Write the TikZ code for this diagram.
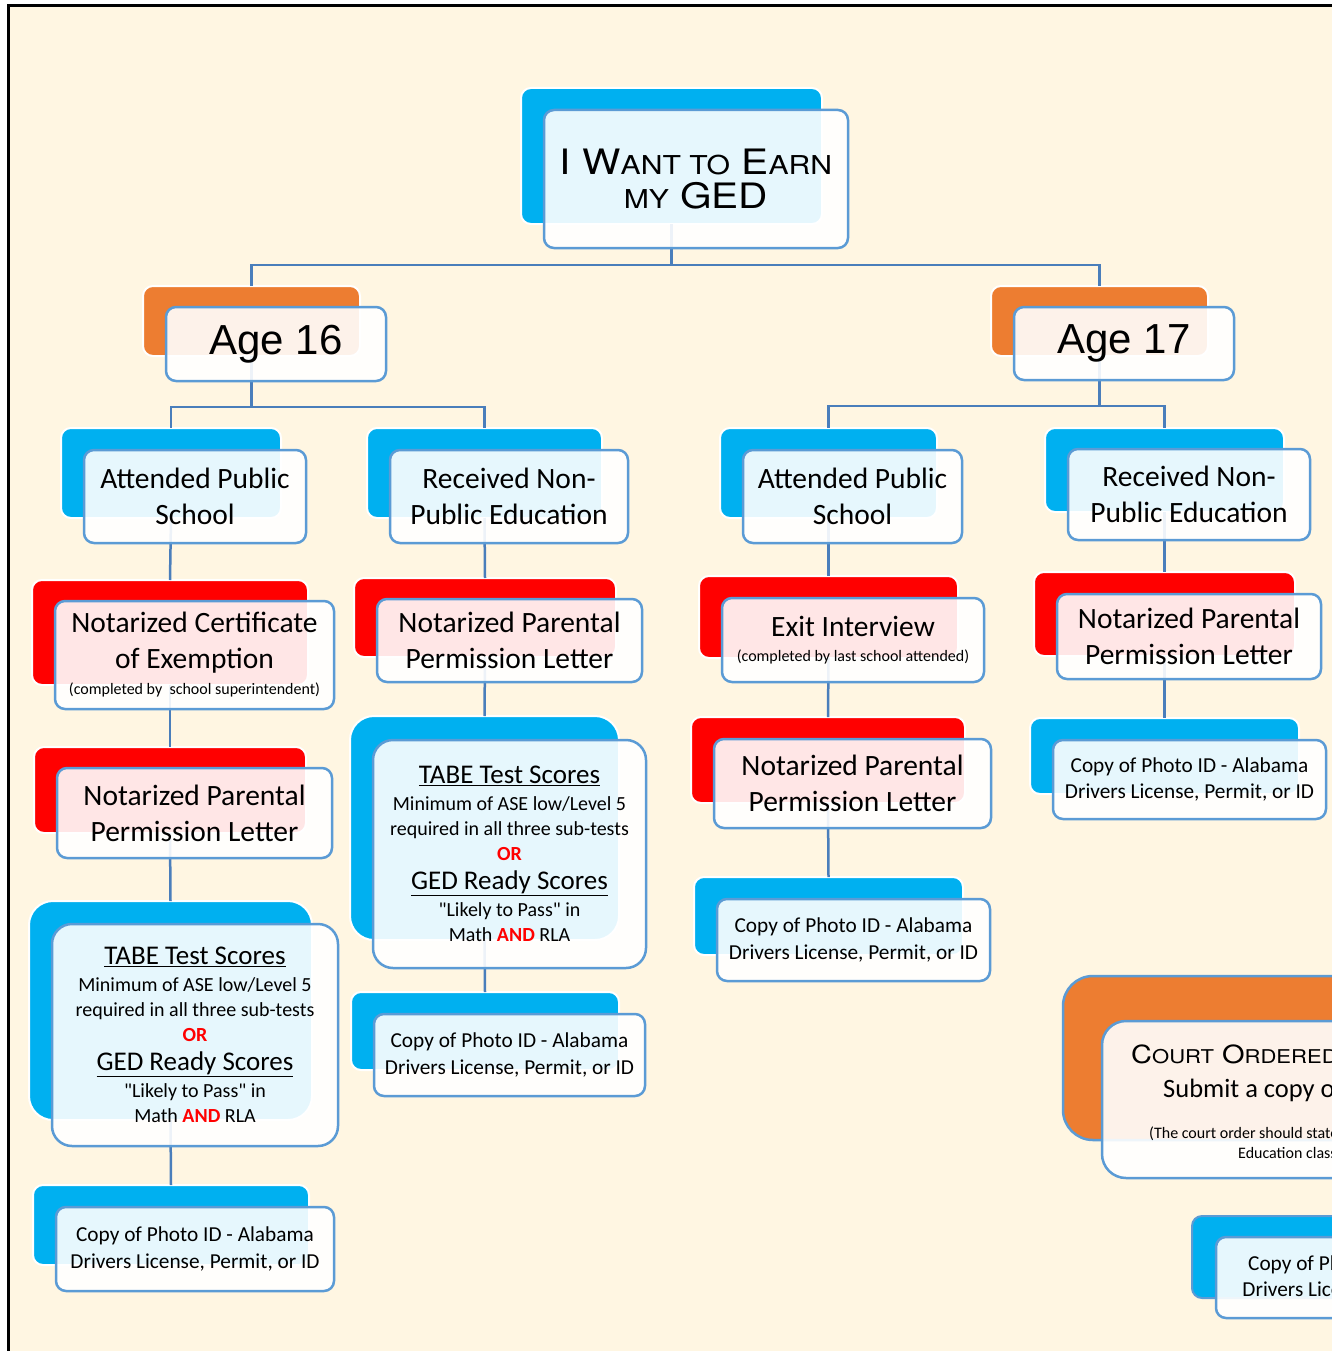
\documentclass[tikz,border=0pt]{standalone}
\usepackage{fontspec}
\setmainfont{Carlito}
\newfontfamily\capsfont{TeX Gyre Heros}[FakeStretch=1.16]
\newfontfamily\agefont{Liberation Sans}
\definecolor{cream}{RGB}{255,246,226}
\definecolor{skyblue}{RGB}{0,176,240}
\definecolor{orangeb}{RGB}{237,125,49}
\definecolor{edgeblue}{RGB}{91,155,213}
\definecolor{linkblue}{RGB}{74,126,187}
\newcommand\lowcaps[2]{{\fontsize{#1}{#1}\selectfont #2}}
\newcommand\tabescores{{\fontsize{27}{25}\selectfont\underline{TABE Test Scores}}\\[2pt]
  Minimum of ASE low/Level 5\\
  required in all three sub-tests\\
  \textcolor{red}{\textbf{OR}}\\[4pt]
  {\fontsize{27}{25}\selectfont\underline{GED Ready Scores}}\\[2pt]
  \textquotedbl Likely to Pass\textquotedbl\ in\\
  Math \textcolor{red}{\textbf{AND}} RLA}

\begin{document}
\begin{tikzpicture}[x=1pt, y=-1pt,
  backbox/.style={draw=white, line width=2pt, rounded corners=10pt, inner sep=0pt, outer sep=0pt},
  frontbox/.style={draw=edgeblue, line width=2.5pt, fill=white, fill opacity=0.9, text opacity=1,
    rounded corners=10pt, inner sep=0pt, outer sep=0pt, align=center, font=\fontsize{29.5}{36}\selectfont},
  idtext/.style={font=\fontsize{21.3}{26.5}\selectfont},
  tabetext/.style={font=\fontsize{20}{25}\selectfont, rounded corners=20pt},
  conn/.style={draw=linkblue, line width=2.5pt}]
  \useasboundingbox (0,0) rectangle (1332,1351);
  \clip (0,0) rectangle (1332,1351);
  \fill [white] (0,0) rectangle (1332,1351);
  \draw [line width=3pt, fill=cream] (8,6) rectangle (1420,1430);

  \node [backbox, fill=skyblue, minimum width=301pt, minimum height=136pt] (titleb) at (671.5,156) {};
  \node [backbox, fill=orangeb, minimum width=217pt, minimum height=70pt] (age16b) at (251.5,321) {};
  \node [backbox, fill=orangeb, minimum width=217pt, minimum height=70pt] (age17b) at (1099.5,321) {};
  \node [backbox, fill=skyblue, minimum width=220pt, minimum height=90pt] (aps1b) at (171,473) {};
  \node [backbox, fill=skyblue, minimum width=235pt, minimum height=90pt] (rnp1b) at (484.5,473) {};
  \node [backbox, fill=skyblue, minimum width=217pt, minimum height=90pt] (aps2b) at (828.5,473) {};
  \node [backbox, fill=skyblue, minimum width=239pt, minimum height=84pt] (rnp2b) at (1164.5,470) {};
  \node [backbox, fill=red, minimum width=276pt, minimum height=105pt] (certb) at (170,632.5) {};
  \node [backbox, fill=red, minimum width=272pt, minimum height=86pt] (npl1b) at (170,790) {};
  \node [backbox, fill=skyblue, rounded corners=24pt, minimum width=283pt, minimum height=219pt] (tabe1b) at (170.5,1010.5) {};
  \node [backbox, fill=skyblue, minimum width=276pt, minimum height=80pt] (id1b) at (171,1225) {};
  \node [backbox, fill=red, minimum width=262pt, minimum height=79pt] (npl2b) at (485,617.5) {};
  \node [backbox, fill=skyblue, rounded corners=24pt, minimum width=269pt, minimum height=224pt] (tabe2b) at (484.5,828) {};
  \node [backbox, fill=skyblue, minimum width=268pt, minimum height=78pt] (id2b) at (485,1031) {};
  \node [backbox, fill=red, minimum width=259pt, minimum height=82pt] (exitb) at (828.5,617) {};
  \node [backbox, fill=red, minimum width=274pt, minimum height=86pt] (npl3b) at (828,760) {};
  \node [backbox, fill=skyblue, minimum width=269pt, minimum height=78pt] (id3b) at (828.5,916) {};
  \node [backbox, fill=red, minimum width=261pt, minimum height=84pt] (npl4b) at (1164.5,614) {};
  \node [backbox, fill=skyblue, minimum width=269pt, minimum height=76pt] (id4b) at (1164.5,756) {};
  \node [backbox, draw=edgeblue, line width=2.5pt, fill=orangeb, rounded corners=30pt, anchor=north west,
    minimum width=340pt, minimum height=164pt] (courtb) at (1063,976) {};
  \node [backbox, draw=edgeblue, line width=2pt, fill=skyblue, anchor=north west,
    minimum width=299pt, minimum height=82pt] (id5b) at (1192,1216) {};

  \draw [conn] (titleb.south) -- ++(0,41) -| (age16b.north);
  \draw [conn] (titleb.south) -- ++(0,41) -| (age17b.north);
  \draw [conn] (age16b.south) -- ++(0,51) -| (aps1b.north);
  \draw [conn] (age16b.south) -- ++(0,51) -| (rnp1b.north);
  \draw [conn] (age17b.south) -- ++(0,50) -| (aps2b.north);
  \draw [conn] (age17b.south) -- ++(0,50) -| (rnp2b.north);
  \draw [conn] (aps1b.south) -- (certb.north);
  \draw [conn] (certb.south) -- (npl1b.north);
  \draw [conn] (npl1b.south) -- (tabe1b.north);
  \draw [conn] (tabe1b.south) -- (id1b.north);
  \draw [conn] (rnp1b.south) -- (npl2b.north);
  \draw [conn] (npl2b.south) -- (tabe2b.north);
  \draw [conn] (tabe2b.south) -- (id2b.north);
  \draw [conn] (aps2b.south) -- (exitb.north);
  \draw [conn] (exitb.south) -- (npl3b.north);
  \draw [conn] (npl3b.south) -- (id3b.north);
  \draw [conn] (rnp2b.south) -- (npl4b.north);
  \draw [conn] (npl4b.south) -- (id4b.north);

  \node [frontbox, minimum width=304pt, minimum height=138pt, font=\capsfont\fontsize{35}{34}\selectfont] (title) at (696,179)
    {I W\lowcaps{26}{ANT TO} E\lowcaps{26}{ARN}\\\lowcaps{26}{MY} GED};
  \node [frontbox, minimum width=220pt, minimum height=74pt, font=\agefont\fontsize{42}{42}\selectfont] (age16) at (276,344) {Age 16};
  \node [frontbox, minimum width=220pt, minimum height=73pt, font=\agefont\fontsize{42}{42}\selectfont] (age17) at (1124,343.5) {Age 17};
  \node [frontbox, minimum width=222pt, minimum height=93pt] (aps1) at (195,496.5) {Attended Public\\School};
  \node [frontbox, minimum width=238pt, minimum height=93pt] (rnp1) at (509,496.5) {Received Non-\\Public Education};
  \node [frontbox, minimum width=219pt, minimum height=93pt] (aps2) at (852.5,496.5) {Attended Public\\School};
  \node [frontbox, minimum width=242pt, minimum height=91pt] (rnp2) at (1189,494.5) {Received Non-\\Public Education};
  \node [frontbox, minimum width=279pt, minimum height=108pt] (cert) at (194.5,655)
    {Notarized Certificate\\of Exemption\\[-10pt]{\fontsize{16}{18}\selectfont (completed by\ \ school superintendent)}};
  \node [frontbox, minimum width=275pt, minimum height=90pt] (npl1) at (194.5,813) {Notarized Parental\\Permission Letter};
  \node [frontbox, tabetext, minimum width=286pt, minimum height=222pt] (tabe1) at (195,1035) {\tabescores};
  \node [frontbox, idtext, minimum width=278pt, minimum height=84pt] (id1) at (195,1249) {Copy of Photo ID - Alabama\\Drivers License, Permit, or ID};
  \node [frontbox, minimum width=265pt, minimum height=83pt] (npl2) at (509.5,640.5) {Notarized Parental\\Permission Letter};
  \node [frontbox, tabetext, minimum width=273pt, minimum height=228pt] (tabe2) at (509.5,854) {\tabescores};
  \node [frontbox, idtext, minimum width=271pt, minimum height=82pt] (id2) at (509.5,1055) {Copy of Photo ID - Alabama\\Drivers License, Permit, or ID};
  \node [frontbox, minimum width=262pt, minimum height=84pt] (exit) at (853,640)
    {Exit Interview\\[-11pt]{\fontsize{16}{18}\selectfont (completed by last school attended)}};
  \node [frontbox, minimum width=277pt, minimum height=89pt] (npl3) at (852.5,783.5) {Notarized Parental\\Permission Letter};
  \node [frontbox, idtext, minimum width=273pt, minimum height=82pt] (id3) at (853.5,940) {Copy of Photo ID - Alabama\\Drivers License, Permit, or ID};
  \node [frontbox, minimum width=264pt, minimum height=85pt] (npl4) at (1189,636.5) {Notarized Parental\\Permission Letter};
  \node [frontbox, idtext, minimum width=273pt, minimum height=79pt] (id4) at (1189.5,779.5) {Copy of Photo ID - Alabama\\Drivers License, Permit, or ID};
  \node [frontbox, rounded corners=24pt, anchor=north west, minimum width=340pt, minimum height=157pt] (court) at (1102,1021) {};
  \node [frontbox, idtext, minimum width=302pt, minimum height=81pt] (id5) at (1367,1277.5) {Copy of Photo ID - Alabama\\Drivers License, Permit, or ID};

  \node [anchor=base west, inner sep=0pt, font=\capsfont\fontsize{25}{25}\selectfont] (courtl1) at (1131,1063)
    {C\lowcaps{19}{OURT} O\lowcaps{19}{RDERED}};
  \node [anchor=base west, inner sep=0pt, font=\fontsize{26.5}{30}\selectfont] (courtl2) at (1163,1097) {Submit a copy of};
  \node [anchor=base west, inner sep=0pt, font=\fontsize{16}{18}\selectfont] (courtl3) at (1149,1138) {(The court order should state};
  \node [anchor=base west, inner sep=0pt, font=\fontsize{16}{18}\selectfont] (courtl4) at (1238,1158) {Education classes};
\end{tikzpicture}
\end{document}
